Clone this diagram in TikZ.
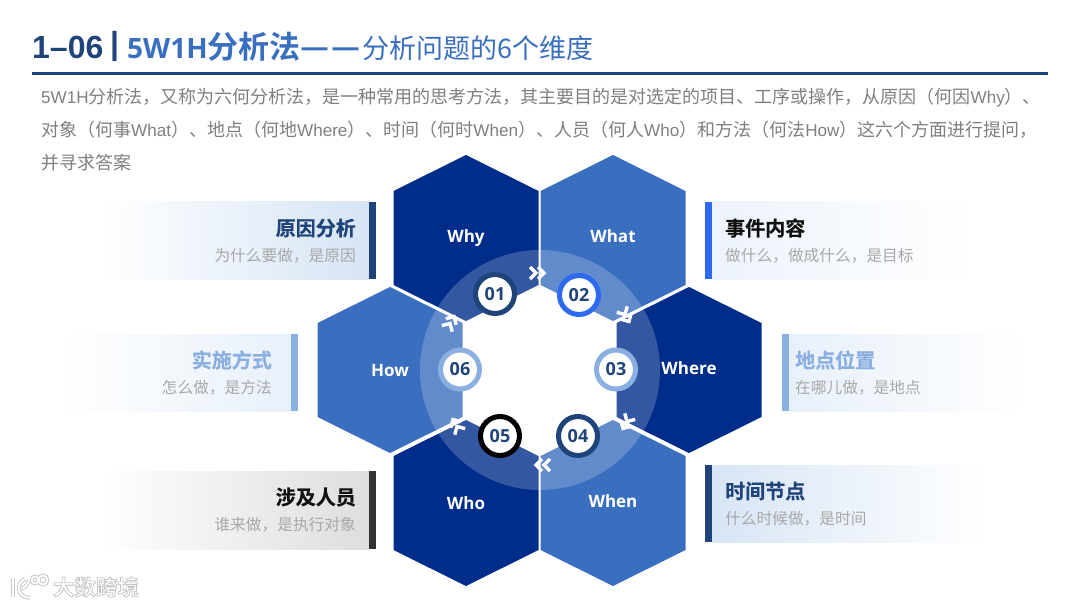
\documentclass[tikz,border=0pt]{standalone}
\usepackage{fontspec}
\setmainfont{Noto Sans CJK SC}[BoldFont=Noto Sans CJK SC Bold]
\newfontfamily\latin{Liberation Sans}
\newfontfamily\hexfont{Open Sans}
\newfontfamily\heavy{Noto Sans CJK SC Bold}[FakeBold=.5]
\newcommand{\fs}[1]{\fontsize{#1}{#1}\selectfont}
\newcommand{\lat}[1]{{\latin\fs{17.1}#1}}
\definecolor{navy}{HTML}{1F4479}
\definecolor{deepblue}{HTML}{012D8A}
\definecolor{midblue}{HTML}{3A6FBF}
\definecolor{paleblue}{HTML}{8AAFE0}
\definecolor{brightblue}{HTML}{2E6AF0}
\definecolor{bodygray}{HTML}{7F7F7F}
\definecolor{subgray}{HTML}{A8A8A8}
\definecolor{markgray}{HTML}{C8C8C8}
\tikzset{
  bodyline/.style={anchor=west,inner sep=0pt,text=bodygray,font=\fs{18}},
  paneltitle/.style={inner sep=0pt,font=\heavy\fs{20}},
  panelsub/.style={inner sep=0pt,text=subgray,font=\fs{15.7}},
  hexlabel/.style={anchor=base,inner sep=0pt,text=white,font=\hexfont\fs{17}\bfseries},
  numdisc/.style={circle,fill=white,minimum size=39pt,inner sep=0pt,line width=5pt,text=navy,font=\hexfont\fs{18}\bfseries},
}
\begin{document}
\begin{tikzpicture}[x=1pt,y=-1pt]
  \useasboundingbox (0,0) rectangle (1080,607);
  % heading
  \node[anchor=west,inner sep=0pt,text=navy,font=\latin\fs{32}\bfseries] (num) at (32,47) {1–06};
  \node[anchor=west,inner sep=0pt,text=navy,font=\latin\fs{32}\bfseries] (sep) at (110,46) {|};
  \node[anchor=west,inner sep=0pt,text=midblue,font=\fs{31}] (head) at (127,47)
    {\textbf{{\hexfont\fs{28}5W1H}分析法{\fs{32}—\hspace{2pt}—\hspace{2pt}}}{\fs{27}分析问题的6个维度}};
  \draw[navy,line width=3pt] (32,74) -- (1048,74);
  \node[bodyline] (line1) at (41,97.5) {\lat{5W1H}分析法，又称为六何分析法，是一种常用的思考方法，其主要目的是对选定的项目、工序或操作，从原因（何因\lat{Why}）、};
  \node[bodyline] (line2) at (41,130) {对象（何事\lat{What}）、地点（何地\lat{Where}）、时间（何时\lat{When}）、人员（何人\lat{Who}）和方法（何法\lat{How}）这六个方面进行提问，};
  \node[bodyline] (line3) at (41,162.5) {并寻求答案};
  % left panels
  \foreach \xa/\xc/\tx/\ya/\yb/\fillc/\barc/\titlec/\nm/\lab/\sublab in {
    100/369/356/202/279/D6E4F5/1F4479/1F4479/why/原因分析/为什么要做，是原因,
    60/291/272/334/411/E8F0FA/8AAFE0/8AAFE0/how/实施方式/怎么做，是方法,
    100/369/356/471/549/DEDEDE/333333/111111/who/涉及人员/谁来做，是执行对象}
  {
    \definecolor{panelc}{HTML}{\fillc}
    \definecolor{barc}{HTML}{\barc}
    \definecolor{titlec}{HTML}{\titlec}
    \shade[left color=white,middle color=panelc,right color=panelc] (\xa,\ya) rectangle (\xc,\yb);
    \fill[barc] (\xc,\ya) rectangle (\xc+7,\yb);
    \node[paneltitle,anchor=east,text=titlec] (title\nm) at (\tx,\ya+26) {\lab};
    \node[panelsub,anchor=east] (sub\nm) at (\tx,\ya+54) {\sublab};
  }
  % right panels
  \foreach \xa/\xc/\tx/\ya/\yb/\fillc/\barc/\titlec/\nm/\lab/\sublab in {
    705/980/725/202/279/EDF3FC/2E6AF0/111111/what/事件内容/做什么，做成什么，是目标,
    782/1025/795/334/411/E8F0FA/8AAFE0/8AAFE0/where/地点位置/在哪儿做，是地点,
    705/985/725/465/542/D8E5F5/1F4479/1F4479/when/时间节点/什么时候做，是时间}
  {
    \definecolor{panelc}{HTML}{\fillc}
    \definecolor{barc}{HTML}{\barc}
    \definecolor{titlec}{HTML}{\titlec}
    \shade[left color=panelc,middle color=panelc,right color=white] (\xa+7,\ya) rectangle (\xc,\yb);
    \fill[barc] (\xa,\ya) rectangle (\xa+7,\yb);
    \node[paneltitle,anchor=west,text=titlec] (title\nm) at (\tx,\ya+26) {\lab};
    \node[panelsub,anchor=west] (sub\nm) at (\tx,\ya+54) {\sublab};
  }
  % hexagons
  \foreach \cx/\cy/\col/\lab/\by in {
    466/238/deepblue/Why/242,613/238/midblue/What/242,689/370/deepblue/Where/374,
    613/503/midblue/When/507,466/503/deepblue/Who/509,390/370/midblue/How/376}
  {
    \fill[\col,shift={(\cx,\cy)}] (0,-83) -- (72.5,-47) -- (72.5,47) -- (0,83) -- (-72.5,47) -- (-72.5,-47) -- cycle;
    \node[hexlabel] (hex\lab) at (\cx,\by) {\lab};
  }
  \fill[white,opacity=.2] (540,370) circle[radius=120];
  % chevrons on the ring
  \foreach \cx/\cy/\ang in {540/273/0,627/318/-60,625/425/-120,540/465/180,455/423/120,452/320/60}
    \draw[white,line width=3.4pt,miter limit=8,shift={(\cx,\cy)},rotate=\ang]
      (-10,-6) -- (-4,0) -- (-10,6) (-2,-6) -- (4,0) -- (-2,6);
  % numbered discs
  \foreach \cx/\cy/\col/\lab in {
    495/294/navy/01,579/295/brightblue/02,616/369.5/paleblue/03,
    578/436/navy/04,500/436/black/05,460/369.5/paleblue/06}
    \node[numdisc,draw=\col] (disc\lab) at (\cx,\cy) {\lab};
  % logo mark
  \node[inner sep=0pt,text=white,font=\fs{21.5}\bfseries] (mark) at (96,587)
    {\special{pdf:code q 2 Tr .8 w .78 .78 .78 RG 1 1 1 rg}大数跨境\special{pdf:code Q}};
  \foreach \wd/\col in {3.8/markgray,1.8/white}
    \draw[\col,line width=\wd pt] (13,578) -- (13,597)
      (25,579) .. controls (16,583) and (16,597) .. (30,598) (21,589) .. controls (26,587) and (28,584) .. (29,580)
      (35,580) circle[radius=3.5] (43,580) circle[radius=4.5];
\end{tikzpicture}
\end{document}
